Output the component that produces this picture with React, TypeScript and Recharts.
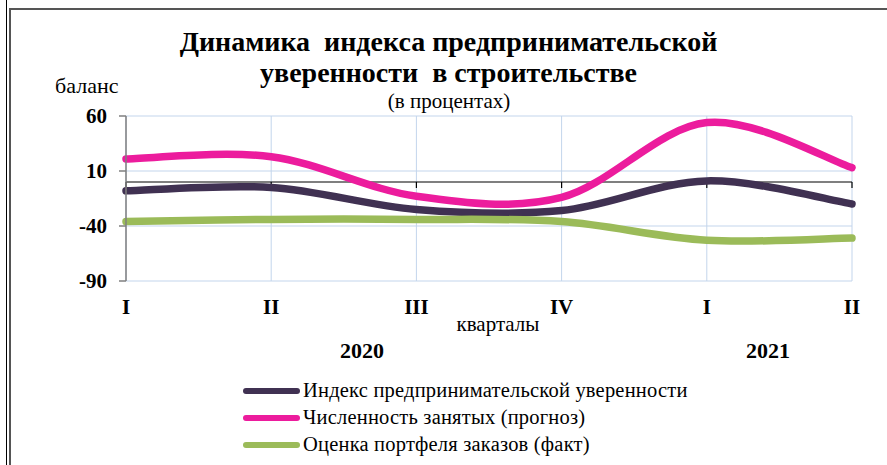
import React from "react";
import {
  LineChart,
  Line,
  XAxis,
  YAxis,
  CartesianGrid,
  ReferenceLine,
} from "recharts";

const quarters = ["I", "II", "III", "IV", "I", "II"];
const keys = ["2020-I", "2020-II", "2020-III", "2020-IV", "2021-I", "2021-II"];

const confidence = [-8, -5, -25, -26, 1, -20];
const employment = [21, 23, -13, -14, 54, 13];
const orders = [-36, -34, -34, -36, -53, -51];

const yTicks = [-90, -40, 10, 60];

const SERIES = [
  { key: "confidence", name: "Индекс предпринимательской уверенности", color: "#403152" },
  { key: "employment", name: "Численность занятых (прогноз)", color: "#ec1c9d" },
  { key: "orders", name: "Оценка портфеля заказов (факт)", color: "#9bbb59" },
];

const data = keys.map((k, i) => ({
  key: k,
  label: quarters[i],
  confidence: confidence[i],
  employment: employment[i],
  orders: orders[i],
}));

const FONT = "'Liberation Serif', serif";

// excel-like smoothed line (cardinal spline through the points)
function excelCurve(context: any) {
  let xs: number[] = [];
  let ys: number[] = [];
  return {
    areaStart() {},
    areaEnd() {},
    lineStart() {
      xs = [];
      ys = [];
    },
    point(x: number, y: number) {
      xs.push(+x);
      ys.push(+y);
    },
    lineEnd() {
      const n = xs.length;
      if (!n) return;
      context.moveTo(xs[0], ys[0]);
      for (let i = 0; i < n - 1; i++) {
        const x0 = xs[Math.max(i - 1, 0)];
        const y0 = ys[Math.max(i - 1, 0)];
        const x3 = xs[Math.min(i + 2, n - 1)];
        const y3 = ys[Math.min(i + 2, n - 1)];
        const c1x = xs[i] + (xs[i + 1] - x0) / 6;
        const c1y = ys[i] + (ys[i + 1] - y0) / 6;
        const c2x = xs[i + 1] - (x3 - xs[i]) / 6;
        const c2y = ys[i + 1] - (y3 - ys[i]) / 6;
        context.bezierCurveTo(c1x, c1y, c2x, c2y, xs[i + 1], ys[i + 1]);
      }
    },
  };
}

function QuarterTick(props: any) {
  const { x, y, payload } = props;
  const label = data[payload.index]?.label ?? "";
  return (
    <text
      x={x}
      y={y + 33}
      textAnchor="middle"
      fontFamily={FONT}
      fontWeight="bold"
      fontSize={21}
      fill="#000"
    >
      {label}
    </text>
  );
}

function LegendBox() {
  return (
    <div style={{ position: "absolute", left: 243, top: 377, fontFamily: FONT, fontSize: 20.5, color: "#000", letterSpacing: 0.2 }}>
      {SERIES.map((s) => (
        <div key={s.key} style={{ display: "flex", alignItems: "center", height: 27 }}>
          <div
            style={{
              width: 57,
              height: 6,
              borderRadius: 3,
              background: s.color,
              marginRight: 3,
            }}
          />
          <span>{s.name}</span>
        </div>
      ))}
    </div>
  );
}

export default function App() {
  return (
    <div
      style={{
        position: "absolute",
        left: 0,
        top: 0,
        width: 887,
        height: 465,
        background: "#fff",
        fontFamily: FONT,
        overflow: "hidden",
      }}
    >
      {/* frame */}
      <div style={{ position: "absolute", left: 6, top: 0, width: 1, height: 465, background: "#000" }} />
      <div style={{ position: "absolute", left: 9, top: 8, width: 2, height: 457, background: "#555" }} />
      <div style={{ position: "absolute", left: 9, top: 8, width: 878, height: 2, background: "#555" }} />

      <div
        style={{
          position: "absolute",
          left: 0,
          width: 897,
          top: 26,
          textAlign: "center",
          fontFamily: FONT,
          fontWeight: "bold",
          fontSize: 28,
          lineHeight: "31px",
        }}
      >
        Динамика&nbsp; индекса предпринимательской
        <br />
        уверенности&nbsp; в строительстве
      </div>
      <div style={{ position: "absolute", left: 55, top: 73, fontFamily: FONT, fontSize: 22 }}>баланс</div>
      <div
        style={{ position: "absolute", left: 0, width: 898, top: 89, textAlign: "center", fontFamily: FONT, fontSize: 21 }}
      >
        (в процентах)
      </div>

      <LineChart
        width={887}
        height={465}
        data={data}
        margin={{ top: 116, right: 35, left: 66, bottom: 154 }}
      >
        <CartesianGrid stroke="#c3d5ec" strokeWidth={1} />
        <XAxis
          dataKey="key"
          axisLine={false}
          tickLine={false}
          tickSize={0}
          tickMargin={0}
          height={30}
          interval={0}
          tick={<QuarterTick />}
        />
        <YAxis
          domain={[-90, 60]}
          ticks={yTicks}
          width={60}
          interval={0}
          axisLine={{ stroke: "#7f7f7f", strokeWidth: 1.5 }}
          tickLine={{ stroke: "#7f7f7f", strokeWidth: 1.5 }}
          tickSize={7}
          tickMargin={12}
          tick={{ fontFamily: FONT, fontWeight: "bold", fontSize: 21, fill: "#000" }}
        />
        <ReferenceLine y={0} stroke="#000" strokeWidth={1.2} />
        {keys.map((k) => (
          <ReferenceLine
            key={k}
            segment={[
              { x: k, y: 0 },
              { x: k, y: -5.5 },
            ]}
            stroke="#000"
            strokeWidth={1.2}
          />
        ))}
        {SERIES.map((s) => (
          <Line
            key={s.key}
            dataKey={s.key}
            name={s.name}
            type={excelCurve as any}
            stroke={s.color}
            strokeWidth={7.5}
            strokeLinecap="round"
            dot={false}
            activeDot={false}
            isAnimationActive={false}
          />
        ))}
      </LineChart>

      <LegendBox />

      <div style={{ position: "absolute", left: 0, width: 996, top: 312, textAlign: "center", fontFamily: FONT, fontSize: 21 }}>
        кварталы
      </div>
      <div style={{ position: "absolute", left: 0, width: 724, top: 338, textAlign: "center", fontFamily: FONT, fontSize: 22, fontWeight: "bold" }}>2020</div>
      <div style={{ position: "absolute", left: 0, width: 1536, top: 338, textAlign: "center", fontFamily: FONT, fontSize: 22, fontWeight: "bold" }}>2021</div>
    </div>
  );
}
